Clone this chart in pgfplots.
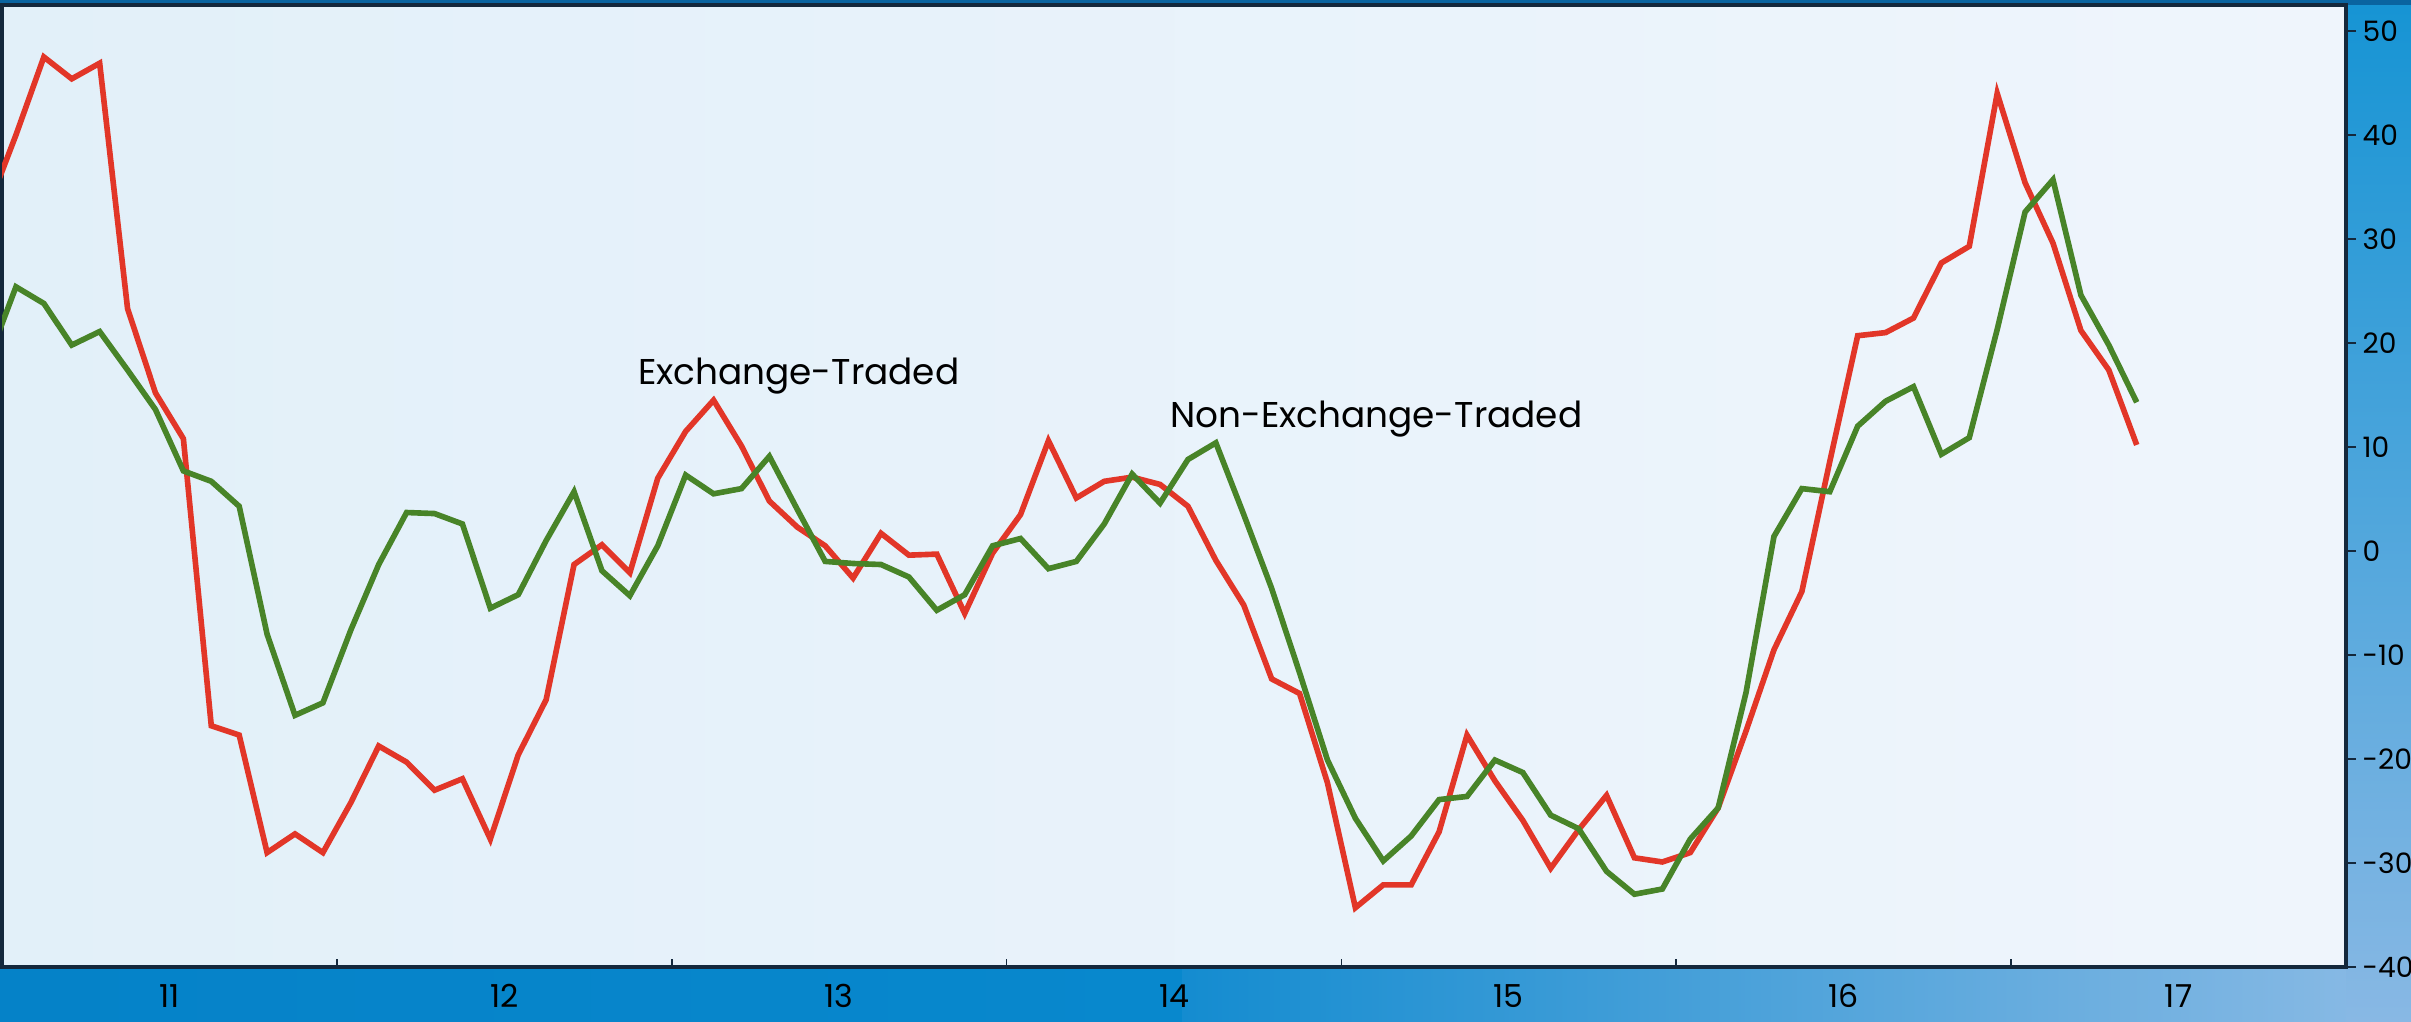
\documentclass[border=0pt]{standalone}
\usepackage{fontspec}
\setmainfont{Poppins}
\usepackage{pgfplots}
\usepackage{pgfplotstable}
\pgfplotsset{compat=1.18}
\usetikzlibrary{backgrounds}
\definecolor{exred}{RGB}{226,54,40}
\definecolor{negreen}{RGB}{72,132,40}
\definecolor{axisdark}{RGB}{20,40,60}
\definecolor{plotL}{RGB}{226,240,249}
\definecolor{plotR}{RGB}{239,245,252}
\definecolor{bgA}{RGB}{5,130,200}
\definecolor{bgB}{RGB}{8,136,205}
\definecolor{bgC}{RGB}{20,140,208}
\definecolor{bgD}{RGB}{140,187,229}
\definecolor{bgE}{RGB}{22,148,212}
\definecolor{bgF}{RGB}{136,184,228}
\definecolor{bgTop}{RGB}{10,100,160}

\pgfplotstableread{
x y
-1 33.0
0 40.0
1 47.5
2 45.4
3 46.9
4 23.3
5 15.2
6 10.8
7 -16.8
8 -17.7
9 -29.0
10 -27.2
11 -29.0
12 -24.2
13 -18.75
14 -20.3
15 -23.0
16 -21.9
17 -27.7
18 -19.6
19 -14.3
20 -1.3
21 0.6
22 -2.1
23 7.0
24 11.5
25 14.5
26 10.1
27 4.8
28 2.3
29 0.5
30 -2.6
31 1.7
32 -0.4
33 -0.3
34 -6.0
35 -0.2
36 3.5
37 10.6
38 5.1
39 6.7
40 7.1
41 6.4
42 4.3
43 -0.9
44 -5.2
45 -12.3
46 -13.7
47 -22.3
48 -34.3
49 -32.1
50 -32.1
51 -27.0
52 -17.7
53 -22.1
54 -25.9
55 -30.5
56 -26.8
57 -23.5
58 -29.5
59 -29.9
60 -29.0
61 -24.7
62 -17.3
63 -9.5
64 -3.9
65 8.6
66 20.7
67 21.0
68 22.4
69 27.7
70 29.3
71 44.0
72 35.4
73 29.6
74 21.2
75 17.4
76 10.2
}\redtable

\pgfplotstableread{
x y
-1 18.3
0 25.4
1 23.8
2 19.8
3 21.1
4 17.4
5 13.6
6 7.7
7 6.7
8 4.3
9 -8.0
10 -15.8
11 -14.6
12 -7.6
13 -1.3
14 3.7
15 3.6
16 2.6
17 -5.5
18 -4.2
19 1.0
20 5.7
21 -1.9
22 -4.3
23 0.5
24 7.3
25 5.5
26 6.0
27 9.1
28 4.0
29 -1.0
30 -1.2
31 -1.3
32 -2.5
33 -5.7
34 -4.2
35 0.5
36 1.2
37 -1.7
38 -1.0
39 2.6
40 7.4
41 4.6
42 8.8
43 10.4
44 3.5
45 -3.6
46 -11.7
47 -20.1
48 -25.7
49 -29.8
50 -27.4
51 -23.9
52 -23.6
53 -20.1
54 -21.3
55 -25.4
56 -26.7
57 -30.8
58 -33.0
59 -32.5
60 -27.7
61 -24.7
62 -13.6
63 1.4
64 6.0
65 5.7
66 12.0
67 14.4
68 15.8
69 9.3
70 10.9
71 21.3
72 32.6
73 35.7
74 24.6
75 19.8
76 14.3
}\greentable

\begin{document}
\begin{tikzpicture}
\begin{axis}[
  at={(0,0)}, anchor=south west,
  scale only axis, width=23.44cm, height=9.62cm,
  xmin=-0.5, xmax=83.5, ymin=-40, ymax=52.5,
  axis background/.style={left color=plotL, right color=plotR},
  axis line style={draw=axisdark, line width=0.9pt},
  xtick={5.5,17.5,29.5,41.5,53.5,65.5,77.5},
  xticklabels={11,12,13,14,15,16,17},
  major x tick style={draw=none},
  minor xtick={11.5,23.5,35.5,47.5,59.5,71.5},
  minor x tick style={draw=axisdark, line width=0.5pt},
  xtick pos=bottom,
  xtick align=inside,
  minor tick length=0.8mm,
  major tick length=1.0mm,
  ytick={-40,-30,-20,-10,0,10,20,30,40,50},
  yticklabels={-40,-30,-20,-10,0,10,20,30,40,50},
  ytick pos=right, yticklabel pos=right,
  ytick align=outside,
  y tick style={draw=axisdark, line width=0.5pt},
  xticklabel style={font=\fontsize{9pt}{10pt}\selectfont, text=black, anchor=center, yshift=-2.9mm},
  yticklabel style={font=\fontsize{8pt}{10pt}\selectfont, text=black, anchor=west, inner sep=0pt, xshift=0.6mm},
  clip=true,
]
\addplot[draw=exred, line width=1.6pt, no marks, line join=miter] table[x=x,y=y] {\redtable};
\addplot[draw=negreen, line width=1.6pt, no marks, line join=miter] table[x=x,y=y] {\greentable};
\node[anchor=base, font=\fontsize{10.2pt}{12pt}\selectfont, text=black] at (axis cs:28.05,16.0) {Exchange-Traded};
\node[anchor=base, font=\fontsize{10.2pt}{12pt}\selectfont, text=black] at (axis cs:48.75,11.9) {Non-Exchange-Traded};
\end{axis}
\begin{scope}[on background layer]
  \fill[left color=bgA, right color=bgB] (-0.02cm,-0.54cm) rectangle (11.8cm,9.67cm);
  \fill[left color=bgC, right color=bgD] (11.8cm,-0.54cm) rectangle (24.09cm,9.67cm);
  \fill[top color=bgE, bottom color=bgF] (23.44cm,-0.54cm) rectangle (24.09cm,9.67cm);
  \fill[bgTop] (-0.02cm,9.62cm) rectangle (24.09cm,9.67cm);
\end{scope}
\pgfresetboundingbox
\path (-0.02cm,-0.54cm) rectangle (24.09cm,9.67cm);
\end{tikzpicture}
\end{document}
